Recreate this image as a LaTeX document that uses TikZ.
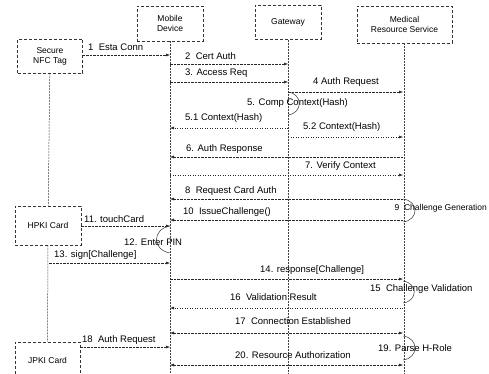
\documentclass[tikz,border=0pt]{standalone}
\usepackage{fontspec}
\setmainfont{Liberation Sans}
\usetikzlibrary{arrows.meta,positioning,calc}

\tikzset{
  actor/.style={draw=black!80, densely dashed, line width=0.5pt, align=center,
    font=\fontsize{8.5}{10}\selectfont, inner sep=1pt},
  life/.style={draw=black!75, dash pattern=on 2pt off 1pt, line width=0.5pt},
  msg/.style={draw=black!85, line width=0.5pt, dash pattern=on 2.5pt off 1pt,
    -{Latex[length=4pt,width=3pt]}},
  dotmsg/.style={msg, dash pattern=on 1pt off 1.5pt},
  both/.style={msg, {Latex[length=4pt,width=3pt]}-{Latex[length=4pt,width=3pt]}},
  lbl/.style={anchor=west, inner sep=0pt, font=\fontsize{9.5}{11}\selectfont},
  selfloop/.style={draw=black!80, line width=0.5pt},
}

\begin{document}
\begin{tikzpicture}[x=1pt, y=-1pt]
  \clip (0,0) rectangle (489,374);
  \useasboundingbox (0,0) rectangle (489,374);

  % participants
  \node[actor, minimum width=65pt, minimum height=34pt] (nfc) at (50,56) {Secure\\NFC Tag};
  \node[actor, minimum width=66pt, minimum height=35pt] (mob) at (170,23.5) {Mobile\\Device};
  \node[actor, minimum width=66pt, minimum height=34pt] (gw) at (288,22.5) {Gateway};
  \node[actor, minimum width=95pt, minimum height=37pt] (mrs) at (404.5,24.5) {Medical\\Resource Service};
  \node[actor, minimum width=66pt, minimum height=39pt] (hpki) at (48,225.5) {HPKI Card};
  \node[actor, minimum width=65pt, minimum height=36pt] (jpki) at (47.5,360) {JPKI Card};

  % lifelines
  \coordinate (bot) at (0,374);
  \draw[life] (nfc) -- (hpki);
  \draw[life] (hpki) -- (jpki);
  \draw[life] (mob) -- (mob |- bot);
  \draw[life] (gw) -- (gw |- bot);
  \draw[life] (mrs) -- (mrs |- bot);

  % points on the lifelines
  \foreach \n/\y in {1/55, 2/64, 3/82, 4/92, 5a/92, 5b/115, 51/128, 52/137,
      6/157, 7/175, 8/199, 9a/199, 9b/222, 10/220, 11/226, 12a/226, 12b/253,
      13/263, 14/279, 15a/281, 15b/303, 16/308, 17/333, 18/347,
      19a/336, 19b/360, 20/365} {
    \coordinate (n\n) at (49,\y);
    \coordinate (m\n) at (170,\y);
    \coordinate (g\n) at (288,\y);
    \coordinate (r\n) at (403,\y);
  }

  % messages
  \draw[msg] (nfc.east |- m1) -- (m1);
  \node[lbl] (l1) at (88,47) {1~ Esta Conn};
  \draw[msg] (m2) -- (g2);
  \node[lbl] (l2) at (185,56) {2~ Cert Auth};
  \draw[msg] (m3) -- (g3);
  \node[lbl] (l3) at (185,73) {3. Access Req};
  \draw[msg] (g4) -- (r4);
  \node[lbl] (l4) at (313,82) {4 Auth Request};
  \draw[selfloop] (g5a) .. controls +(15,2) and +(15,-2) .. (g5b);
  \node[lbl] (l5) at (247,103) {5. Comp Context(Hash)};
  \draw[dotmsg] (g51) -- (m51);
  \node[lbl] (l51) at (185,118) {5.1 Context(Hash)};
  \draw[dotmsg] (g52) -- (r52);
  \node[lbl] (l52) at (303,127) {5.2 Context(Hash)};
  \draw[msg] (r6) -- (m6);
  \node[lbl] (l6) at (186,149) {6. Auth Response};
  \draw[dotmsg] (m7) -- (r7);
  \node[lbl] (l7) at (305,166) {7. Verify Context};
  \draw[msg] (r8) -- (m8);
  \node[lbl] (l8) at (185,191) {8~ Request Card Auth};
  \draw[selfloop] (r9a) .. controls +(16,2) and +(16,-2) .. (r9b);
  \node[lbl, anchor=east, font=\fontsize{8.5}{10}\selectfont] (l9) at (487,208) {9~ Challenge Generation};
  \draw[msg] (r10) -- (m10);
  \node[lbl] (l10) at (183,212) {10~ IssueChallenge()};
  \draw[msg] (hpki.east |- m11) -- (m11);
  \node[lbl] (l11) at (84,219) {11. touchCard};
  \draw[selfloop] (m12a) .. controls +(-18,3) and +(-18,-3) .. (m12b);
  \node[lbl] (l12) at (124,242) {12. Enter PIN};
  \draw[msg] (n13) -- (m13);
  \node[lbl] (l13) at (54,255) {13. sign[Challenge]};
  \draw[msg] (m14) -- (r14);
  \node[lbl] (l14) at (260,270) {14. response[Challenge]};
  \draw[selfloop] (r15a) .. controls +(15,2) and +(15,-2) .. (r15b);
  \node[lbl] (l15) at (370,289) {15~ Challenge Validation};
  \draw[dotmsg] (r16) -- (m16);
  \node[lbl] (l16) at (230,297) {16~ Validation Result};
  \draw[both] (m17) -- (r17);
  \node[lbl] (l17) at (235,321) {17~ Connection Established};
  \draw[msg] (jpki.east |- m18) -- (m18);
  \node[lbl] (l18) at (82,340) {18~ Auth Request};
  \draw[selfloop] (r19a) .. controls +(16,2) and +(16,-2) .. (r19b);
  \node[lbl] (l19) at (378,348) {19. Parse H-Role};
  \draw[both] (m20) -- (r20);
  \node[lbl] (l20) at (235,355) {20. Resource Authorization};
\end{tikzpicture}
\end{document}
